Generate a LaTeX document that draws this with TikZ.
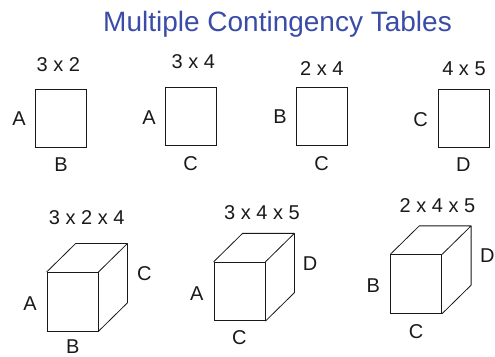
\documentclass[tikz,border=0pt]{standalone}
\usepackage{fontspec}
\setmainfont{Liberation Sans}
\usetikzlibrary{calc}
\definecolor{titleblue}{RGB}{58,76,168}
\definecolor{ink}{RGB}{25,25,25}
\begin{document}
\begin{tikzpicture}[x=1pt,y=1pt,
  lab/.style={font=\fontsize{20}{22}\selectfont, text=ink, inner sep=0pt},
  face/.style={draw=ink, line width=0.8pt, inner sep=0pt, minimum width=51pt, minimum height=58.5pt},
  edge/.style={draw=ink, line width=0.8pt, line join=round}]
\useasboundingbox (0,0) rectangle (495,-356);
% title
\node[font=\fontsize{28}{30}\selectfont, text=titleblue, inner sep=0pt, anchor=base] (title) at (277.5,-31) {Multiple Contingency Tables};
% row 1
\node[face] (s1) at (61.2,-118.3) {};
\node[face] (s2) at (190.8,-116.2) {};
\node[face] (s3) at (322,-116.2) {};
\node[face] (s4) at (463.8,-118.3) {};
\node[lab] (t1) at (58.3,-65) {3 x 2};
\node[lab] (t2) at (193.3,-61.7) {3 x 4};
\node[lab] (t3) at (321.8,-68.3) {2 x 4};
\node[lab] (t4) at (464,-68.3) {4 x 5};
\node[lab] (a1) at (19,-119) {A};
\node[lab] (b1) at (61,-164.3) {B};
\node[lab] (a2) at (149,-117.3) {A};
\node[lab] (c2) at (190.7,-163.3) {C};
\node[lab] (b3) at (280,-116.7) {B};
\node[lab] (c3) at (321.7,-163.3) {C};
\node[lab] (c4) at (420.7,-119.3) {C};
\node[lab] (d4) at (463.3,-165) {D};
% row 2 cubes
\foreach \n/\cx/\cy in {k1/72.5/-301.7, k2/239.5/-291.5, k3/416.2/-284} {
  \node[face] (\n) at (\cx,\cy) {};
  \coordinate (\n tl) at ($(\n.north west)+(29,28.5)$);
  \coordinate (\n tr) at ($(\n.north east)+(29,28.5)$);
  \coordinate (\n br) at ($(\n.south east)+(29,28.5)$);
  \draw[edge] (\n.north west) -- (\n tl) -- (\n tr) -- (\n.north east);
  \draw[edge] (\n tr) -- (\n br) -- (\n.south east);
}
\node[lab] (u1) at (86.7,-217.7) {3 x 2 x 4};
\node[lab] (ka) at (30,-304) {A};
\node[lab] (kb) at (72.7,-346.7) {B};
\node[lab] (kc) at (144.3,-274) {C};
\node[lab] (u2) at (262,-212.3) {3 x 4 x 5};
\node[lab] (la) at (196.7,-293.3) {A};
\node[lab] (lc) at (239.3,-337.3) {C};
\node[lab] (ld) at (310,-263.3) {D};
\node[lab] (u3) at (437.5,-205.7) {2 x 4 x 5};
\node[lab] (mb) at (373.3,-285.7) {B};
\node[lab] (mc) at (416,-331.7) {C};
\node[lab] (md) at (487.3,-256) {D};
\end{tikzpicture}
\end{document}
